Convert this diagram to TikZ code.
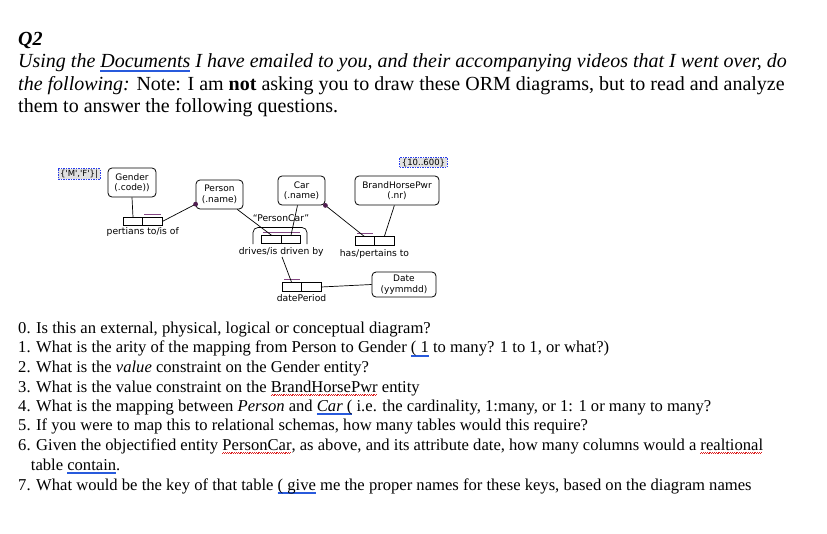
\documentclass[tikz,border=0pt]{standalone}
\usepackage{fontspec}
\setmainfont{Liberation Serif}
\newfontfamily\ormfont{DejaVu Sans}
\usetikzlibrary{positioning}
\definecolor{ormpurple}{RGB}{80,30,80}
\definecolor{barpurple}{RGB}{130,70,130}
\definecolor{vcblue}{RGB}{40,60,235}
\definecolor{gramblue}{RGB}{40,90,220}
\definecolor{spellred}{RGB}{220,30,30}
\newsavebox{\ulbox}
\newcommand{\gline}[1]{\sbox\ulbox{#1}\rlap{\color{gramblue}\rule[-2.4pt]{\wd\ulbox}{0.6pt}\kern-\wd\ulbox\rule[-4pt]{\wd\ulbox}{0.6pt}}\usebox\ulbox}
\newcommand{\sline}[1]{\sbox\ulbox{#1}\rlap{\color{spellred}\leaders\hbox{\rule[-3.8pt]{0.9pt}{0.6pt}\rule[-3pt]{0.9pt}{0.6pt}}\hskip\wd\ulbox}\usebox\ulbox}

\begin{document}
\begin{tikzpicture}[x=1pt, y=-1pt,
  hdr/.style={anchor=base west, inner sep=0pt, font=\fontsize{20}{22}\selectfont},
  qst/.style={anchor=base west, inner sep=0pt, font=\fontsize{16.6}{19}\selectfont},
  entity/.style={draw, line width=0.8pt, rounded corners=4pt, align=center, inner sep=1pt, minimum height=29pt, font=\ormfont\fontsize{9}{10.5}\selectfont},
  role/.style={draw, line width=0.8pt, minimum width=19.5pt, minimum height=8.5pt, inner sep=0pt, outer sep=0pt},
  lbl/.style={inner sep=0pt, font=\ormfont\fontsize{9.2}{10}\selectfont},
  vcon/.style={draw=vcblue, dash pattern=on 1.5pt off 1pt, line width=0.8pt, fill=black!12, inner xsep=2pt, inner ysep=1pt, font=\ormfont\fontsize{8.5}{9}\selectfont},
  link/.style={line width=0.7pt},
  ubar/.style={barpurple, line width=0.9pt}]
  \useasboundingbox[fill=white] (0,0) rectangle (827,533);

  % Heading
  \node[hdr] (q2) at (18,45.7) {\textbf{\textit{Q2}}};
  \node[hdr] (l1) at (18,67.7) {\textit{Using the \gline{Documents} I have emailed to you, and their accompanying videos that I went over, do}};
  \node[hdr] (l2) at (18,90) {\textit{the following:} Note: I am \textbf{not} asking you to draw these ORM diagrams, but to read and analyze};
  \node[hdr] (l3) at (18,112.3) {them to answer the following questions.};

  % Row 1: value constraints + entity types
  \node[vcon] (mf) at (79,174) {\{'M','F'\}|};
  \node[vcon] (range) at (423.5,162.5) {\{10..600\}};
  \node[entity, minimum width=48pt] (gender) at (132,182.5) {Gender\\(.code))};
  \node[entity, minimum width=47pt] (person) at (219.5,194.5) {Person\\(.name)};
  \node[entity, minimum width=47pt] (car) at (301.5,190.5) {Car\\(.name)};
  \node[entity, minimum width=84pt] (brand) at (397,190.5) {BrandHorsePwr\\(.nr)};
  \node[entity, minimum width=64pt, minimum height=25pt] (date) at (404,284.5) {Date\\(yymmdd)};

  % Row 2: fact types
  \node[role] (p1) at (133,221.5) {};
  \node[role, right=0pt of p1] (p2) {};
  \node[lbl, below=1.5pt of p1.south east] (plab) {pertians to/is of};
  \node[role] (d1) at (271.5,239.5) {};
  \node[role, right=0pt of d1] (d2) {};
  \node[lbl, below=4pt of d1.south east] (dlab) {drives/is driven by};
  \node[lbl] (pclab) at (281,218) {“PersonCar”};
  \node[role] (h1) at (364.75,241) {};
  \node[role, right=0pt of h1] (h2) {};
  \node[lbl, below=4pt of h1.south east] (hlab) {has/pertains to};

  % Row 3: attribute of the objectified type
  \node[role] (dp1) at (291.75,287) {};
  \node[role, right=0pt of dp1] (dp2) {};
  \node[lbl, below=3pt of dp1.south east] (dplab) {datePeriod};

  % Objectification frame
  \draw[link, rounded corners=5pt] (253,244) -- (253,227.5) -- (307,227.5) -- (307,244);

  % Uniqueness constraints
  \draw[ubar] ([shift={(1.5pt,3pt)}]p2.north west) -- ([shift={(-1.5pt,3pt)}]p2.north east);
  \draw[ubar] ([shift={(1pt,3pt)}]d1.north west) -- ([shift={(-1pt,3pt)}]d2.north east);
  \draw[ubar] ([shift={(2pt,3pt)}]h1.north west) -- ([shift={(-2pt,3pt)}]h1.north east);
  \draw[ubar] ([shift={(2pt,3pt)}]dp1.north west) -- ([shift={(-2pt,3pt)}]dp1.north east);

  % Connections
  \draw[link] (gender.south) -- (p1.north);
  \draw[link] (p2.east) -- (person.202);
  \fill[ormpurple] (person.202) circle (2.4pt);
  \draw[link] (person.-40) -- (d1.north);
  \draw[link] (car.-105) -- (d2.north);
  \draw[link] (car.south east) -- (h1.north);
  \fill[ormpurple] (car.south east) circle (2.4pt);
  \draw[link] (brand.-100) -- (h2.north);
  \draw[link] (dlab.-80) -- (dp1.north);
  \draw[link] (dp2.east) -- (date.west);

  % Questions
  \node[qst] (q0) at (18,333) {0. Is this an external, physical, logical or conceptual diagram?};
  \node[qst] (qa) at (18,352.7) {1. What is the arity of the mapping from Person to Gender \gline{( 1} to many? 1 to 1, or what?)};
  \node[qst] (qb) at (18,372) {2. What is the \textit{value} constraint on the Gender entity?};
  \node[qst] (qc) at (18,392) {3. What is the value constraint on the \sline{BrandHorsePwr} entity};
  \node[qst] (qd) at (18,411) {4. What is the mapping between \textit{Person} and \gline{\textit{Car} (} i.e. the cardinality, 1:many, or 1: 1 or many to many?};
  \node[qst] (qe) at (18,430) {5. If you were to map this to relational schemas, how many tables would this require?};
  \node[qst] (qf) at (18,450) {6. Given the objectified entity \sline{PersonCar}, as above, and its attribute date, how many columns would a \sline{realtional}};
  \node[qst] (qg) at (30.7,470) {table \gline{contain}.};
  \node[qst] (qh) at (18,490) {7. What would be the key of that table \gline{( give} me the proper names for these keys, based on the diagram names};
\end{tikzpicture}
\end{document}
